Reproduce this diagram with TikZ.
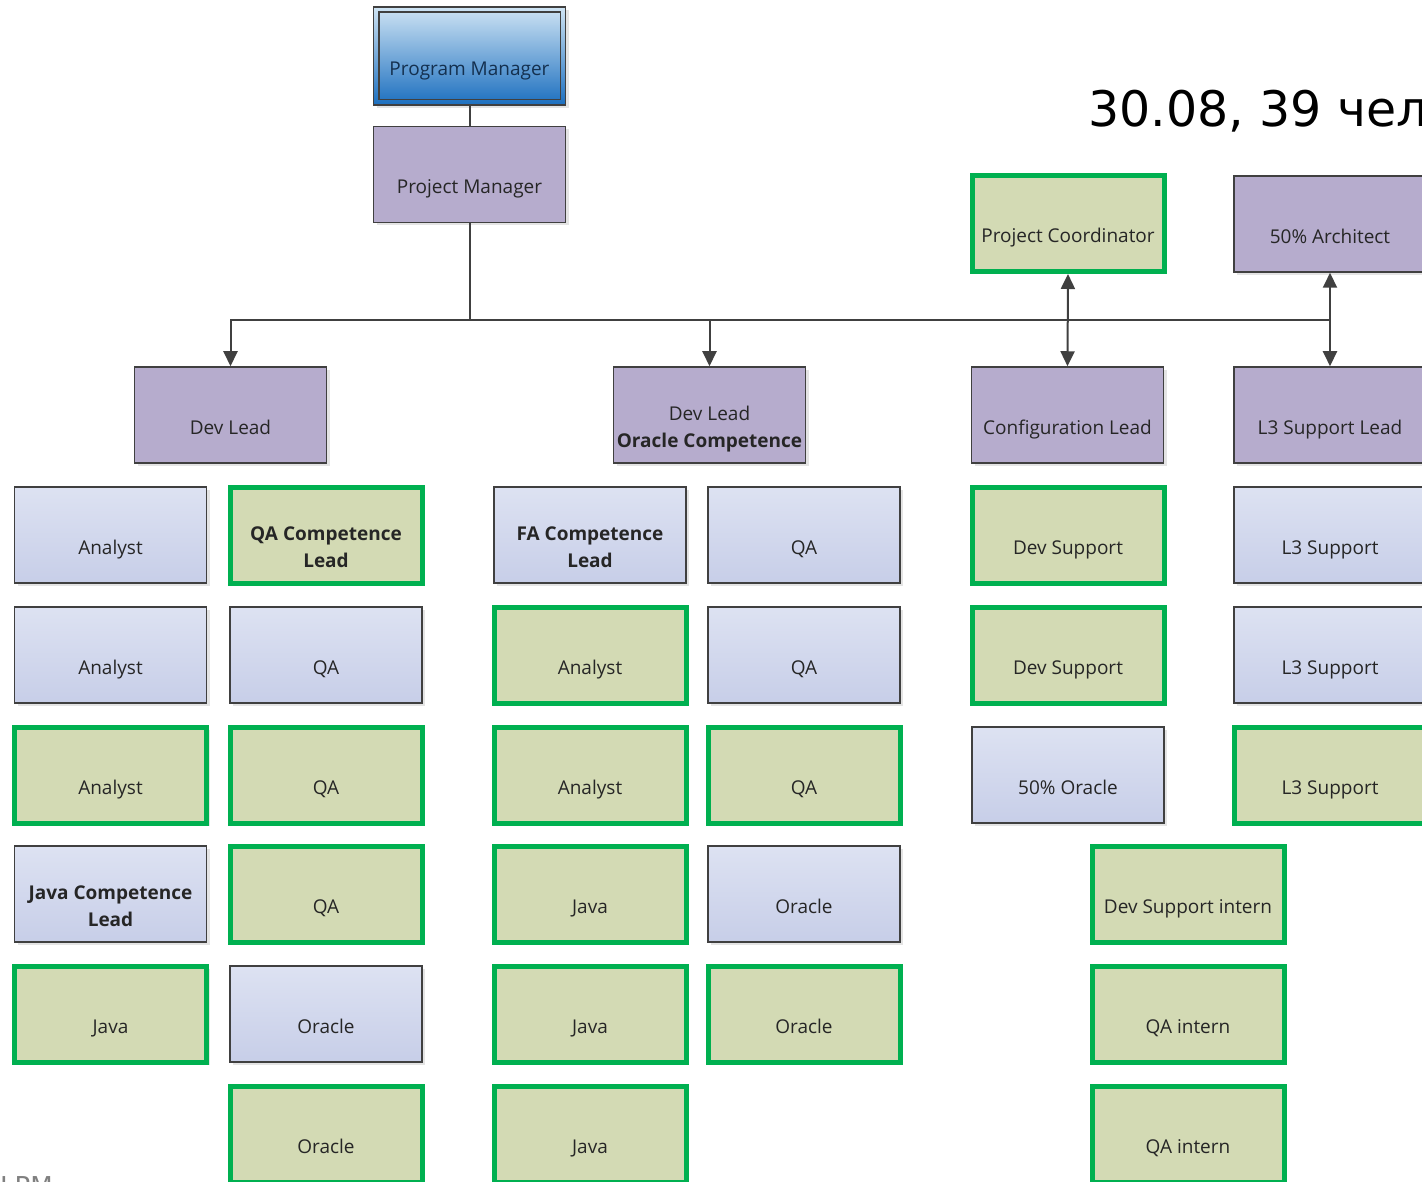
\documentclass[tikz,border=0pt]{standalone}
\usepackage{fontspec}
\setmainfont{Open Sans}
\newfontfamily\bigfont{DejaVu Sans}
\usetikzlibrary{shadows,arrows.meta}
\definecolor{bluefillT}{HTML}{DDE2F2}
\definecolor{bluefillB}{HTML}{C7CEE8}
\definecolor{greenfill}{HTML}{D3DAB4}
\definecolor{greenline}{HTML}{00B050}
\definecolor{purplefill}{HTML}{B6ACCD}
\definecolor{edgecol}{HTML}{404040}
\definecolor{pmT}{HTML}{CFE4F4}
\definecolor{pmM}{HTML}{7FB5E2}
\definecolor{pmB}{HTML}{1C6FBF}
\definecolor{pmtext}{HTML}{14304F}
\newcommand{\bx}[1]{\raisebox{-18pt}[0pt][0pt]{\begin{tabular}{@{}c@{}}#1\end{tabular}}}
\begin{document}
\begin{tikzpicture}[x=1pt,y=-1pt,
  base/.style={draw=edgecol, line width=1.5pt, minimum width=192pt, minimum height=96pt,
    inner sep=0pt, font=\fontsize{19}{27}\selectfont, text=black!85,
    drop shadow={shadow xshift=3pt, shadow yshift=-3pt, fill=black!30, opacity=0.35}},
  bluebox/.style={base, top color=bluefillT, bottom color=bluefillB},
  greenbox/.style={base, draw=greenline, line width=5pt, fill=greenfill},
  purplebox/.style={base, fill=purplefill},
  pgmbox/.style={base, draw=edgecol, top color=pmT, middle color=pmM, bottom color=pmB, text=pmtext, minimum height=98pt},
  conn/.style={draw=edgecol, line width=2pt},
  tip/.style={-{Triangle[length=15pt,width=14pt]}},
  tips/.style={{Triangle[length=15pt,width=14pt]}-{Triangle[length=15pt,width=14pt]}}
]
\useasboundingbox (0,0) rectangle (1422,1182);

% top
\node[pgmbox] (pgm) at (469.5,56) {\bx{Program Manager}};
\draw[draw=edgecol, line width=1.5pt] ([xshift=6pt,yshift=-6pt]pgm.north west) rectangle ([xshift=-6pt,yshift=6pt]pgm.south east);
\node[purplebox] (pjm) at (469.5,174.5) {\bx{Project Manager}};
\node[greenbox] (pcoord) at (1068,223.5) {\bx{Project Coordinator}};
\node[purplebox] (arch) at (1330,224) {\bx{50\% Architect}};

\node[purplebox] (devlead) at (230.5,415) {\bx{Dev Lead}};
\node[purplebox] (oralead) at (709.5,415) {\bx{Dev Lead\\\textbf{Oracle Competence}}};
\node[purplebox] (conflead) at (1067.5,415) {\bx{Configuration Lead}};
\node[purplebox] (l3lead) at (1330,415) {\bx{L3 Support Lead}};

% column A
\node[bluebox] (a1) at (110.5,535) {\bx{Analyst}};
\node[bluebox] (a2) at (110.5,655) {\bx{Analyst}};
\node[greenbox] (a3) at (110.5,775) {\bx{Analyst}};
\node[bluebox] (a4) at (110.5,894) {\bx{\textbf{Java Competence}\\\textbf{Lead}}};
\node[greenbox] (a5) at (110.5,1014) {\bx{Java}};
% column B
\node[greenbox] (b1) at (326,535) {\bx{\textbf{QA Competence}\\\textbf{Lead}}};
\node[bluebox] (b2) at (326,655) {\bx{QA}};
\node[greenbox] (b3) at (326,775) {\bx{QA}};
\node[greenbox] (b4) at (326,894) {\bx{QA}};
\node[bluebox] (b5) at (326,1014) {\bx{Oracle}};
\node[greenbox] (b6) at (326,1134) {\bx{Oracle}};
% column C
\node[bluebox] (c1) at (590,535) {\bx{\textbf{FA Competence}\\\textbf{Lead}}};
\node[greenbox] (c2) at (590,655) {\bx{Analyst}};
\node[greenbox] (c3) at (590,775) {\bx{Analyst}};
\node[greenbox] (c4) at (590,894) {\bx{Java}};
\node[greenbox] (c5) at (590,1014) {\bx{Java}};
\node[greenbox] (c6) at (590,1134) {\bx{Java}};
% column D
\node[bluebox] (d1) at (804,535) {\bx{QA}};
\node[bluebox] (d2) at (804,655) {\bx{QA}};
\node[greenbox] (d3) at (804,775) {\bx{QA}};
\node[bluebox] (d4) at (804,894) {\bx{Oracle}};
\node[greenbox] (d5) at (804,1014) {\bx{Oracle}};
% column E
\node[greenbox] (e1) at (1068,535) {\bx{Dev Support}};
\node[greenbox] (e2) at (1068,655) {\bx{Dev Support}};
\node[bluebox] (e3) at (1068,775) {\bx{50\% Oracle}};
% column F
\node[bluebox] (f1) at (1330,535) {\bx{L3 Support}};
\node[bluebox] (f2) at (1330,655) {\bx{L3 Support}};
\node[greenbox] (f3) at (1330,775) {\bx{L3 Support}};
% column G
\node[greenbox] (g1) at (1188,894) {\bx{Dev Support intern}};
\node[greenbox] (g2) at (1188,1014) {\bx{QA intern}};
\node[greenbox] (g3) at (1188,1134) {\bx{QA intern}};

% connectors
\coordinate (bus) at (pjm.south |- 0,320);
\draw[conn] (pgm) -- (pjm);
\draw[conn] (pjm.south) -- (bus);
\draw[conn,tip] (bus) -| (devlead.north);
\draw[conn,tip] (bus) -| (oralead.north);
\draw[conn] (bus) -- (bus -| l3lead.north);
\draw[conn,tips] (pcoord.south) -- (conflead.north);
\draw[conn,tips] (arch.south) -- (l3lead.north);

% texts
\node[anchor=base west, inner sep=0pt, font=\bigfont\fontsize{49}{49}\selectfont] (date) at (1088,127) {30.08, 39 чел};
\node[anchor=north west, inner sep=0pt, text=black!50, font=\bigfont\fontsize{26}{26}\selectfont] (lpm) at (0,1176) {LPM};
\end{tikzpicture}
\end{document}
